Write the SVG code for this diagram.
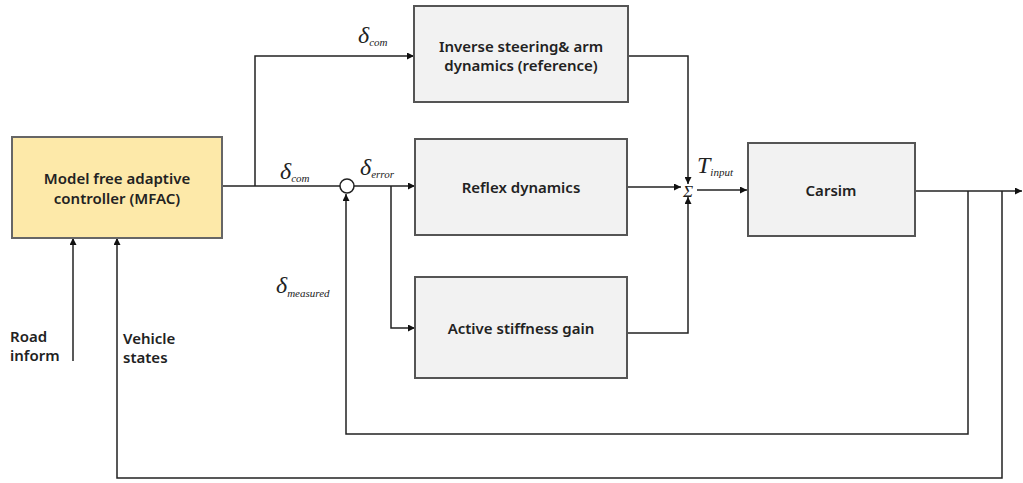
<svg xmlns="http://www.w3.org/2000/svg" width="1023" height="483" viewBox="0 0 1023 483">
<defs>
<marker id="ah" viewBox="0 0 10 10" refX="10" refY="5" markerWidth="7" markerHeight="7" markerUnits="userSpaceOnUse" orient="auto"><path d="M0,0 L10,5 L0,10 z" fill="#111"/></marker>
<style>
.box{fill:#f2f2f2;stroke:#555;stroke-width:2}
.mfac{fill:#fde9a9;stroke:#666;stroke-width:2}
.lbl{font-family:"Noto Sans","Open Sans",sans-serif;font-weight:600;font-size:15px;fill:#222;text-anchor:middle}
.side{font-family:"Noto Sans","Open Sans",sans-serif;font-weight:600;font-size:15px;fill:#222}
.gk{font-family:"Liberation Serif",serif;font-style:italic;font-size:24px;fill:#222}
.sub{font-family:"Liberation Serif",serif;font-style:italic;font-size:11px;fill:#222}
.ln{fill:none;stroke:#222;stroke-width:1.5}
.ar{fill:none;stroke:#222;stroke-width:1.5;marker-end:url(#ah)}
</style>
</defs>
<rect width="1023" height="483" fill="#fff"/>
<g id="connectors">
<path class="ln" d="M222,186 H340"/>
<path class="ar" d="M255,186 V56 H414"/>
<path class="ar" d="M354,186 H415"/>
<path class="ar" d="M391,186 V328 H415"/>
<path class="ar" d="M628,56 H688 V184"/>
<path class="ar" d="M627,187 H681"/>
<path class="ar" d="M627,333 H688 V197"/>
<path class="ar" d="M697,190 H747"/>
<path class="ar" d="M916,191 H1022"/>
<path class="ar" d="M968,191 V434 H346 V194"/>
<path class="ar" d="M1002,191 V478 H117 V238"/>
<path class="ar" d="M73,361 V238"/>
</g>
<g id="sum-circle"><circle cx="347" cy="186" r="7" fill="#fff" stroke="#222" stroke-width="1.5"/></g>
<g id="sum"><text x="688" y="197" font-family="Liberation Serif,serif" font-style="italic" font-size="17" text-anchor="middle" fill="#222">Σ</text></g>
<g id="mfac"><rect class="mfac" x="12" y="137" width="210" height="101"/>
<text class="lbl" x="117" y="184">Model free adaptive</text>
<text class="lbl" x="117" y="204">controller (MFAC)</text></g>
<g id="inverse"><rect class="box" x="414" y="6" width="214" height="96"/>
<text class="lbl" x="521" y="52">Inverse steering&amp; arm</text>
<text class="lbl" x="521" y="71">dynamics (reference)</text></g>
<g id="reflex"><rect class="box" x="415" y="139" width="212" height="96"/>
<text class="lbl" x="521" y="193">Reflex dynamics</text></g>
<g id="active"><rect class="box" x="415" y="277" width="212" height="101"/>
<text class="lbl" x="521" y="334">Active stiffness gain</text></g>
<g id="carsim"><rect class="box" x="748" y="143" width="167" height="93"/>
<text class="lbl" x="831" y="196">Carsim</text></g>
<g id="labels">
<text class="gk" x="358" y="43">δ<tspan class="sub" dy="3">com</tspan></text>
<text class="gk" x="280" y="179">δ<tspan class="sub" dy="3">com</tspan></text>
<text class="gk" x="360" y="175">δ<tspan class="sub" dy="3">error</tspan></text>
<text class="gk" x="276" y="293">δ<tspan class="sub" dy="4">measured</tspan></text>
<text class="gk" x="697" y="173">T<tspan class="sub" dy="3">input</tspan></text>
<text class="side" x="10" y="342">Road</text>
<text class="side" x="10" y="361">inform</text>
<text class="side" x="123" y="344">Vehicle</text>
<text class="side" x="123" y="363">states</text>
</g>
</svg>
